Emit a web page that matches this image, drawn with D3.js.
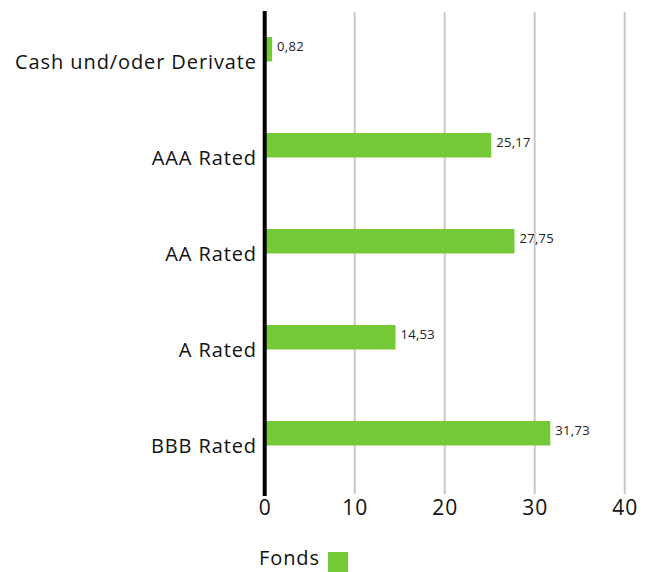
<!DOCTYPE html>
<html>
<head>
<meta charset="utf-8">
<script src="https://cdn.jsdelivr.net/npm/d3@7"></script>
<style>
  html, body { margin: 0; padding: 0; background: #fff; }
  svg { display: block; font-family: "Open Sans", "Noto Sans", sans-serif; }
</style>
</head>
<body>
<div id="chart"></div>
<script>
// Portfolio breakdown by credit rating (in %)
const categories = ["Cash und/oder Derivate", "AAA Rated", "AA Rated", "A Rated", "BBB Rated"];
const fondsValues = [0.82, 25.17, 27.75, 14.53, 31.73];
const valueLabels = ["0,82", "25,17", "27,75", "14,53", "31,73"];
const xTicks = [0, 10, 20, 30, 40];
const seriesName = "Fonds";

const width = 651, height = 572;
const barColor = "#74c936";

const svg = d3.select("#chart").append("svg")
  .attr("width", width).attr("height", height);

const x = d3.scaleLinear().domain([0, 40]).range([264.7, 624.7]);
const y = d3.scaleBand().domain(categories).range([12, 492]);

// vertical gridlines
svg.append("g").selectAll("line").data(xTicks.filter(d => d > 0)).join("line")
  .attr("x1", d => x(d)).attr("x2", d => x(d))
  .attr("y1", 12).attr("y2", 494)
  .attr("stroke", "#c8c8c8").attr("stroke-width", 2);

// bars sit in the upper half of each band
const barH = 24.5;
svg.append("g").selectAll("rect").data(fondsValues).join("rect")
  .attr("x", x(0))
  .attr("y", (d, i) => y(categories[i]) + 25)
  .attr("width", d => x(d) - x(0))
  .attr("height", barH)
  .attr("fill", barColor);

// value labels
svg.append("g").selectAll("text").data(fondsValues).join("text")
  .attr("x", d => x(d) + 5)
  .attr("y", (d, i) => y(categories[i]) + 25 + 14)
  .attr("font-size", 13)
  .attr("letter-spacing", "0.3px")
  .attr("fill", "#222")
  .text((d, i) => valueLabels[i]);

// category labels
svg.append("g").selectAll("text").data(categories).join("text")
  .attr("x", 257)
  .attr("y", d => y(d) + y.bandwidth() / 2 + 9)
  .attr("text-anchor", "end")
  .attr("font-size", 20)
  .attr("letter-spacing", "0.9px")
  .attr("fill", "#111")
  .text(d => d);

// x axis tick labels
const xAxis = d3.axisBottom(x).tickValues(xTicks).tickSize(0).tickPadding(0).tickFormat(d3.format("d"));
const gx = svg.append("g").attr("transform", "translate(0,497)").call(xAxis);
gx.select(".domain").remove();
gx.selectAll("text").attr("font-size", 21).attr("fill", "#111")
  .attr("letter-spacing", "1px")
  .attr("font-family", "\"Open Sans\", sans-serif").attr("dy", "0.85em");

// baseline at zero
svg.append("line")
  .attr("x1", x(0)).attr("x2", x(0))
  .attr("y1", 11).attr("y2", 496)
  .attr("stroke", "#000").attr("stroke-width", 4);

// legend
const legend = svg.append("g");
legend.append("text").attr("x", 259).attr("y", 565)
  .attr("font-size", 20).attr("letter-spacing", "0.9px")
  .attr("fill", "#111").text(seriesName);
legend.append("rect").attr("x", 328).attr("y", 552)
  .attr("width", 20).attr("height", 20).attr("fill", barColor);
</script>
</body>
</html>
